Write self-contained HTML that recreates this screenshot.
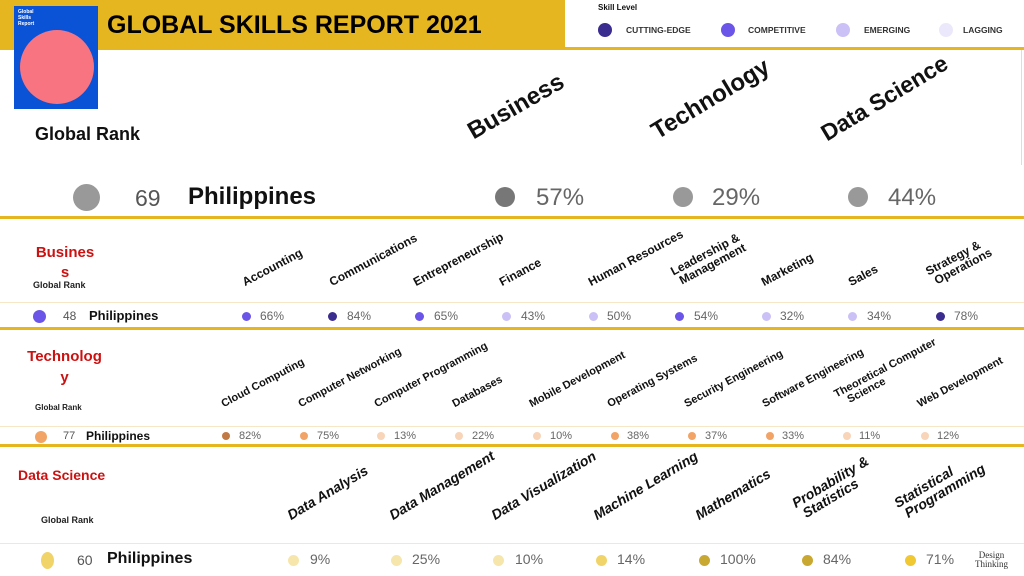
<!DOCTYPE html>
<html><head><meta charset="utf-8"><style>
*{margin:0;padding:0;box-sizing:border-box}
body{width:1024px;height:576px;position:relative;overflow:hidden;background:#fff;font-family:"Liberation Sans",sans-serif;color:#111}
.a{position:absolute;white-space:nowrap}
.r{position:absolute;white-space:nowrap;transform-origin:0 100%;line-height:1;font-weight:bold;color:#111}
.hl{position:absolute;left:0;width:1024px;height:3px;background:#e5b620}
.ll{position:absolute;left:0;width:1024px;height:1px;background:#f6e7c6}
.d{position:absolute;border-radius:50%}
.p{position:absolute;color:#666;white-space:nowrap}
.rk{font-size:9px;font-weight:bold;color:#222}
</style></head><body>
<div class="a" style="left:0;top:0;width:565px;height:48px;background:#e5b620"></div>
<div class="hl" style="top:47px"></div>
<div class="a" style="left:14px;top:6px;width:84px;height:103px;background:#0a52d6;overflow:hidden">
 <div class="a" style="left:4px;top:3px;font-size:5px;color:#fff;font-weight:bold;line-height:6px">Global<br>Skills<br>Report</div>
 <div class="d" style="left:6px;top:24px;width:74px;height:74px;background:#f87480"></div>
</div>
<div class="a" style="left:107px;top:11px;font-size:25px;font-weight:bold;color:#000">GLOBAL SKILLS REPORT 2021</div>
<div class="a" style="left:598px;top:3px;font-size:8px;font-weight:bold">Skill Level</div>
<div class="d" style="left:598px;top:23px;width:14px;height:14px;background:#3a2d8f"></div>
<div class="a" style="left:626px;top:25px;font-size:8.5px;font-weight:bold;color:#333">CUTTING-EDGE</div>
<div class="d" style="left:721px;top:23px;width:14px;height:14px;background:#6a55e8"></div>
<div class="a" style="left:748px;top:25px;font-size:8.5px;font-weight:bold;color:#333">COMPETITIVE</div>
<div class="d" style="left:836px;top:23px;width:14px;height:14px;background:#cbc1f6"></div>
<div class="a" style="left:864px;top:25px;font-size:8.5px;font-weight:bold;color:#333">EMERGING</div>
<div class="d" style="left:939px;top:23px;width:14px;height:14px;background:#ece8fb"></div>
<div class="a" style="left:963px;top:25px;font-size:8.5px;font-weight:bold;color:#333">LAGGING</div>
<div class="a" style="left:1021px;top:50px;width:1px;height:115px;background:#ddd"></div>

<div class="a" style="left:35px;top:124px;font-size:18px;font-weight:bold">Global Rank</div>
<div class="r" style="left:476px;top:120px;font-size:24px;transform:rotate(-30deg)">Business</div>
<div class="r" style="left:660px;top:120px;font-size:24px;transform:rotate(-31deg)">Technology</div>
<div class="r" style="left:829px;top:122px;font-size:23px;transform:rotate(-31deg)">Data Science</div>

<div class="d" style="left:73px;top:184px;width:27px;height:27px;background:#999"></div>
<div class="a" style="left:135px;top:185px;font-size:23px;color:#555">69</div>
<div class="a" style="left:188px;top:183px;font-size:24px;font-weight:bold">Philippines</div>
<div class="d" style="left:495px;top:187px;width:20px;height:20px;background:#777"></div>
<div class="p" style="left:536px;top:184px;font-size:24px">57%</div>
<div class="d" style="left:673px;top:187px;width:20px;height:20px;background:#999"></div>
<div class="p" style="left:712px;top:184px;font-size:24px">29%</div>
<div class="d" style="left:848px;top:187px;width:20px;height:20px;background:#999"></div>
<div class="p" style="left:888px;top:184px;font-size:24px">44%</div>
<div class="hl" style="top:216px"></div>

<div class="a" style="left:28px;top:243px;width:74px;text-align:center;font-size:15px;font-weight:bold;color:#cc1111;line-height:20px;white-space:normal">Busines<br>s</div>
<div class="a rk" style="left:33px;top:280px">Global Rank</div>
<div class="r" style="left:246px;top:276px;font-size:12px;transform:rotate(-28deg)">Accounting</div>
<div class="r" style="left:333px;top:276px;font-size:12px;transform:rotate(-28deg)">Communications</div>
<div class="r" style="left:417px;top:276px;font-size:12px;transform:rotate(-28deg)">Entrepreneurship</div>
<div class="r" style="left:503px;top:276px;font-size:12px;transform:rotate(-28deg)">Finance</div>
<div class="r" style="left:592px;top:276px;font-size:12px;transform:rotate(-28deg)">Human Resources</div>
<div class="r" style="left:680px;top:264px;font-size:12px;transform:rotate(-28deg)">Leadership &amp;<br>&nbsp;Management</div>
<div class="r" style="left:765px;top:276px;font-size:12px;transform:rotate(-28deg)">Marketing</div>
<div class="r" style="left:852px;top:276px;font-size:12px;transform:rotate(-28deg)">Sales</div>
<div class="r" style="left:935px;top:264px;font-size:12px;transform:rotate(-28deg)">Strategy &amp;<br>&nbsp;Operations</div>
<div class="ll" style="top:302px"></div>
<div class="d" style="left:33px;top:310px;width:13px;height:13px;background:#6a55e8"></div>
<div class="a" style="left:63px;top:309px;font-size:12px;color:#555">48</div>
<div class="a" style="left:89px;top:308px;font-size:13px;font-weight:bold">Philippines</div>
<div class="d" style="left:242px;top:312px;width:9px;height:9px;background:#6a55e8"></div><div class="p" style="left:260px;top:309px;font-size:12px">66%</div>
<div class="d" style="left:328px;top:312px;width:9px;height:9px;background:#3a2d8f"></div><div class="p" style="left:347px;top:309px;font-size:12px">84%</div>
<div class="d" style="left:415px;top:312px;width:9px;height:9px;background:#6a55e8"></div><div class="p" style="left:434px;top:309px;font-size:12px">65%</div>
<div class="d" style="left:502px;top:312px;width:9px;height:9px;background:#cbc1f6"></div><div class="p" style="left:521px;top:309px;font-size:12px">43%</div>
<div class="d" style="left:589px;top:312px;width:9px;height:9px;background:#cbc1f6"></div><div class="p" style="left:607px;top:309px;font-size:12px">50%</div>
<div class="d" style="left:675px;top:312px;width:9px;height:9px;background:#6a55e8"></div><div class="p" style="left:694px;top:309px;font-size:12px">54%</div>
<div class="d" style="left:762px;top:312px;width:9px;height:9px;background:#cbc1f6"></div><div class="p" style="left:780px;top:309px;font-size:12px">32%</div>
<div class="d" style="left:848px;top:312px;width:9px;height:9px;background:#cbc1f6"></div><div class="p" style="left:867px;top:309px;font-size:12px">34%</div>
<div class="d" style="left:936px;top:312px;width:9px;height:9px;background:#3a2d8f"></div><div class="p" style="left:954px;top:309px;font-size:12px">78%</div>
<div class="hl" style="top:327px"></div>

<div class="a" style="left:22px;top:346px;width:85px;text-align:center;font-size:15px;font-weight:bold;color:#cc1111;line-height:21px;white-space:normal">Technolog<br>y</div>
<div class="a rk" style="left:35px;top:403px;font-size:8px">Global Rank</div>
<div class="r" style="left:225px;top:399px;font-size:11px;transform:rotate(-28deg)">Cloud Computing</div>
<div class="r" style="left:302px;top:399px;font-size:11px;transform:rotate(-28deg)">Computer Networking</div>
<div class="r" style="left:378px;top:399px;font-size:11px;transform:rotate(-28deg)">Computer Programming</div>
<div class="r" style="left:456px;top:399px;font-size:11px;transform:rotate(-28deg)">Databases</div>
<div class="r" style="left:533px;top:399px;font-size:11px;transform:rotate(-28deg)">Mobile Development</div>
<div class="r" style="left:611px;top:399px;font-size:11px;transform:rotate(-28deg)">Operating Systems</div>
<div class="r" style="left:688px;top:399px;font-size:11px;transform:rotate(-28deg)">Security Engineering</div>
<div class="r" style="left:766px;top:399px;font-size:11px;transform:rotate(-28deg)">Software Engineering</div>
<div class="r" style="left:843px;top:388px;font-size:11px;transform:rotate(-28deg)">Theoretical Computer<br>&nbsp;&nbsp;&nbsp;Science</div>
<div class="r" style="left:921px;top:399px;font-size:11px;transform:rotate(-28deg)">Web Development</div>
<div class="ll" style="top:426px"></div>
<div class="d" style="left:35px;top:431px;width:12px;height:12px;background:#f2a466"></div>
<div class="a" style="left:63px;top:430px;font-size:11px;color:#555">77</div>
<div class="a" style="left:86px;top:429px;font-size:12px;font-weight:bold">Philippines</div>
<div class="d" style="left:222px;top:432px;width:8px;height:8px;background:#c27a44"></div><div class="p" style="left:239px;top:430px;font-size:11px">82%</div>
<div class="d" style="left:300px;top:432px;width:8px;height:8px;background:#f2a466"></div><div class="p" style="left:317px;top:430px;font-size:11px">75%</div>
<div class="d" style="left:377px;top:432px;width:8px;height:8px;background:#f8d4b8"></div><div class="p" style="left:394px;top:430px;font-size:11px">13%</div>
<div class="d" style="left:455px;top:432px;width:8px;height:8px;background:#f8d4b8"></div><div class="p" style="left:472px;top:430px;font-size:11px">22%</div>
<div class="d" style="left:533px;top:432px;width:8px;height:8px;background:#f8d4b8"></div><div class="p" style="left:550px;top:430px;font-size:11px">10%</div>
<div class="d" style="left:611px;top:432px;width:8px;height:8px;background:#f2a466"></div><div class="p" style="left:627px;top:430px;font-size:11px">38%</div>
<div class="d" style="left:688px;top:432px;width:8px;height:8px;background:#f2a466"></div><div class="p" style="left:705px;top:430px;font-size:11px">37%</div>
<div class="d" style="left:766px;top:432px;width:8px;height:8px;background:#f2a466"></div><div class="p" style="left:782px;top:430px;font-size:11px">33%</div>
<div class="d" style="left:843px;top:432px;width:8px;height:8px;background:#f8d4b8"></div><div class="p" style="left:859px;top:430px;font-size:11px">11%</div>
<div class="d" style="left:921px;top:432px;width:8px;height:8px;background:#f8d4b8"></div><div class="p" style="left:937px;top:430px;font-size:11px">12%</div>
<div class="hl" style="top:444px"></div>

<div class="a" style="left:18px;top:467px;font-size:14px;font-weight:bold;color:#cc1111">Data Science</div>
<div class="a rk" style="left:41px;top:515px">Global Rank</div>
<div class="r" style="left:292px;top:508px;font-size:14px;font-style:italic;transform:rotate(-31deg)">Data Analysis</div>
<div class="r" style="left:394px;top:508px;font-size:14px;font-style:italic;transform:rotate(-31deg)">Data Management</div>
<div class="r" style="left:496px;top:508px;font-size:14px;font-style:italic;transform:rotate(-31deg)">Data Visualization</div>
<div class="r" style="left:598px;top:508px;font-size:14px;font-style:italic;transform:rotate(-31deg)">Machine Learning</div>
<div class="r" style="left:700px;top:508px;font-size:14px;font-style:italic;transform:rotate(-31deg)">Mathematics</div>
<div class="r" style="left:804px;top:494px;font-size:14px;font-style:italic;transform:rotate(-31deg)">Probability &amp;<br>&nbsp;Statistics</div>
<div class="r" style="left:906px;top:494px;font-size:14px;font-style:italic;transform:rotate(-31deg)">Statistical<br>&nbsp;Programming</div>
<div class="ll" style="top:543px"></div>
<div class="d" style="left:41px;top:552px;width:13px;height:17px;background:#f0d46a"></div>
<div class="a" style="left:77px;top:552px;font-size:14px;color:#555">60</div>
<div class="a" style="left:107px;top:550px;font-size:16px;font-weight:bold">Philippines</div>
<div class="d" style="left:288px;top:555px;width:11px;height:11px;background:#f6e6ac"></div><div class="p" style="left:310px;top:551px;font-size:14px">9%</div>
<div class="d" style="left:391px;top:555px;width:11px;height:11px;background:#f6e6ac"></div><div class="p" style="left:412px;top:551px;font-size:14px">25%</div>
<div class="d" style="left:493px;top:555px;width:11px;height:11px;background:#f6e6ac"></div><div class="p" style="left:515px;top:551px;font-size:14px">10%</div>
<div class="d" style="left:596px;top:555px;width:11px;height:11px;background:#f0d46a"></div><div class="p" style="left:617px;top:551px;font-size:14px">14%</div>
<div class="d" style="left:699px;top:555px;width:11px;height:11px;background:#c9a832"></div><div class="p" style="left:720px;top:551px;font-size:14px">100%</div>
<div class="d" style="left:802px;top:555px;width:11px;height:11px;background:#c9a832"></div><div class="p" style="left:823px;top:551px;font-size:14px">84%</div>
<div class="d" style="left:905px;top:555px;width:11px;height:11px;background:#f0c832"></div><div class="p" style="left:926px;top:551px;font-size:14px">71%</div>
<div class="a" style="left:975px;top:551px;font-size:9px;line-height:9px;font-family:'Liberation Serif',serif;color:#333;text-align:center">Design<br>Thinking</div>
</body></html>
